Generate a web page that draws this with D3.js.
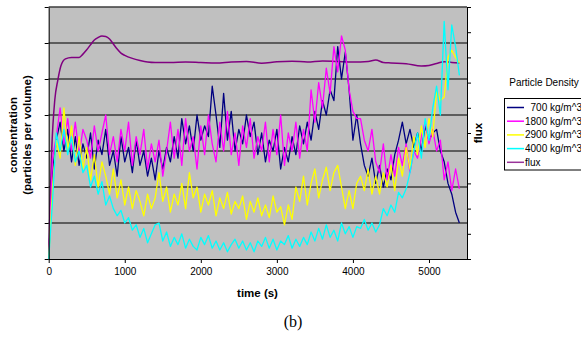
<!DOCTYPE html>
<html>
<head>
<meta charset="utf-8">
<script src="https://cdn.jsdelivr.net/npm/d3@7"></script>
<style>
  html, body { margin: 0; padding: 0; background: #fff; }
  svg { display: block; }
</style>
</head>
<body>
<div id="chart"></div>
<script>
// sampling of the concentration series (s)
const sampleStep = 50;

const seriesNames = ["  700 kg/m^3", "1800 kg/m^3", "2900 kg/m^3", "4000 kg/m^3"];
const seriesColors = ["#000080", "#ff00ff", "#ffff00", "#00ffff"];

const conc700 = [
  0,240,330,380,300,360,270,340,260,320,
  280,350,250,330,290,360,260,300,230,340,
  270,310,240,330,260,300,230,280,220,300,
  250,310,270,340,280,390,320,370,300,400,
  330,370,340,480,400,310,460,330,410,300,
  360,320,400,340,380,290,350,270,330,300,
  360,250,310,270,340,290,370,320,380,330,
  410,360,440,400,470,440,590,500,575,470,
  330,400,320,260,230,280,210,260,200,250,
  220,290,330,380,320,360,310,350,300,370,
  330,350,360,300,270,210,180,130,100
];
const conc1800 = [
  0,280,340,420,320,390,300,380,290,360,
  330,280,370,300,350,400,290,340,270,360,
  300,380,260,340,290,360,250,320,270,330,
  230,300,380,280,360,260,390,300,340,250,
  370,290,400,320,270,380,300,410,290,350,
  260,370,310,390,280,340,300,380,270,360,
  290,400,260,350,300,380,280,360,300,470,
  380,490,420,530,460,590,520,620,580,470,
  410,390,390,330,300,360,270,240,320,220,
  290,230,310,260,320,240,300,280,340,380,
  320,360,300,330,220,270,190,250,195
];
const conc2900 = [
  0,200,330,280,420,300,370,260,340,250,
  310,220,290,200,270,230,180,250,170,220,
  150,200,140,190,160,120,180,140,170,240,
  160,200,130,180,150,210,140,240,170,200,
  130,180,150,190,120,170,140,185,125,160,
  140,175,110,160,130,170,120,150,115,175,
  130,145,95,150,110,200,160,230,150,210,
  250,170,220,255,190,240,260,200,140,190,
  140,210,230,190,250,180,230,180,240,200,
  260,190,280,230,310,250,340,290,370,310,
  390,340,470,440,450,560,580,560,545
];
const conc4000 = [
  0,160,350,300,360,290,340,270,300,240,
  260,200,230,180,215,150,175,140,120,135,
  100,115,80,95,60,85,45,70,95,100,
  50,75,35,60,40,70,30,55,35,25,
  60,40,65,30,50,25,45,20,40,55,
  30,50,25,45,20,50,35,60,30,55,
  25,50,40,65,30,55,35,60,40,75,
  50,85,55,95,60,80,50,100,70,90,
  60,90,85,110,80,100,75,95,140,120,
  150,130,185,170,195,240,300,350,280,390,
  330,420,480,400,660,470,650,590,510
];

const fluxTimes = [0,20,40,80,120,160,220,300,400,450,500,550,600,650,700,750,800,850,900,950,
  1000,1100,1200,1300,1400,1600,1800,2000,2200,2400,2600,2800,3000,3200,3400,3600,3800,4000,4200,4300,
  4400,4500,4700,4900,5000,5100,5200,5300,5400];
const fluxValues = [0,0.234,0.433,0.631,0.71,0.766,0.794,0.80,0.80,0.813,0.83,0.85,0.869,0.879,0.885,0.883,0.873,0.853,0.833,0.817,
  0.808,0.796,0.788,0.782,0.78,0.78,0.782,0.78,0.778,0.782,0.784,0.777,0.783,0.785,0.782,0.786,0.784,0.782,0.784,0.79,
  0.78,0.778,0.775,0.766,0.768,0.776,0.783,0.78,0.778];

const xTicks = [0, 1000, 2000, 3000, 4000, 5000];

const width = 581, height = 341;
const plotLeft = 48.7, plotRight = 467, plotTop = 7, plotBottom = 259;

const svg = d3.select("#chart").append("svg")
  .attr("width", width)
  .attr("height", height)
  .attr("viewBox", [0, 0, width, height])
  .style("font-family", "Arial, 'Liberation Sans', sans-serif");

const x = d3.scaleLinear().domain([0, 5500]).range([plotLeft, plotRight]);
const y = d3.scaleLinear().domain([0, 700]).range([plotBottom, plotTop]);
const yFlux = d3.scaleLinear().domain([0, 1]).range([plotBottom, plotTop]);

// plot area
svg.append("rect")
  .attr("x", plotLeft).attr("y", plotTop)
  .attr("width", plotRight - plotLeft).attr("height", plotBottom - plotTop)
  .attr("fill", "#c0c0c0");

// gridlines
svg.append("g")
  .selectAll("line")
  .data(d3.range(100, 701, 100))
  .join("line")
    .attr("x1", plotLeft).attr("x2", plotRight)
    .attr("y1", d => y(d)).attr("y2", d => y(d))
    .attr("stroke", "#3c3c3c")
    .attr("stroke-width", 1.3);

// series
const line = d3.line()
  .x((d, i) => x(i * sampleStep))
  .y(d => y(d));

const fluxLine = d3.line()
  .x((d, i) => x(fluxTimes[i]))
  .y(d => yFlux(d))
  .curve(d3.curveMonotoneX);

svg.append("path")
  .attr("d", fluxLine(fluxValues))
  .attr("fill", "none")
  .attr("stroke", "#800080")
  .attr("stroke-width", 1.5);

const allSeries = [conc700, conc1800, conc2900, conc4000];
svg.append("g")
  .selectAll("path")
  .data(allSeries)
  .join("path")
    .attr("d", d => line(d))
    .attr("fill", "none")
    .attr("stroke", (d, i) => seriesColors[i])
    .attr("stroke-width", 1.3)
    .attr("stroke-linejoin", "round");

// axes
const gx = svg.append("g")
  .attr("transform", `translate(0,${plotBottom})`)
  .call(d3.axisBottom(x).tickValues(xTicks).tickFormat(d3.format("d"))
    .tickSize(4).tickPadding(5).tickSizeOuter(0));
gx.select(".domain").attr("stroke", "#000").attr("d", `M${plotLeft},0.5H${plotRight}`);
gx.selectAll("text").attr("font-size", 10).attr("fill", "#000").attr("font-family", "Arial, 'Liberation Sans', sans-serif");

const gy = svg.append("g")
  .attr("transform", `translate(${plotLeft},0)`)
  .call(d3.axisLeft(y).tickValues(d3.range(0, 701, 100)).tickSize(4).tickFormat("").tickSizeOuter(0));
gy.select(".domain").attr("stroke", "#000");

const gr = svg.append("g")
  .attr("transform", `translate(${plotRight},0)`)
  .call(d3.axisRight(yFlux).tickValues(d3.range(0, 1.01, 0.1)).tickSize(4).tickFormat("").tickSizeOuter(0));
gr.select(".domain").attr("stroke", "#000");

// axis titles
svg.append("text")
  .attr("x", 257.5).attr("y", 297)
  .attr("text-anchor", "middle")
  .attr("font-size", 11.5).attr("font-weight", "bold")
  .text("time (s)");

const yTitle = svg.append("text")
  .attr("transform", "translate(16.5,135) rotate(-90)")
  .attr("text-anchor", "middle")
  .attr("font-size", 11.5).attr("font-weight", "bold");
yTitle.append("tspan").attr("x", 0).attr("y", 0).text("concentration");
yTitle.append("tspan").attr("x", 0).attr("y", 14.5).text("(particles per volume)");

svg.append("text")
  .attr("transform", "translate(482,133) rotate(-90)")
  .attr("text-anchor", "middle")
  .attr("font-size", 11.5).attr("font-weight", "bold")
  .text("flux");

svg.append("text")
  .attr("x", 293).attr("y", 327)
  .attr("text-anchor", "middle")
  .attr("font-family", "'Liberation Serif', 'Times New Roman', serif")
  .attr("font-size", 16)
  .text("(b)");

// legend
svg.append("text")
  .attr("x", 544).attr("y", 86)
  .attr("text-anchor", "middle")
  .attr("font-size", 10)
  .text("Particle Density");

svg.append("rect")
  .attr("x", 504.5).attr("y", 98.5)
  .attr("width", 90).attr("height", 71.5)
  .attr("fill", "#fff").attr("stroke", "#000");

const legendItems = seriesNames.map((n, i) => ({name: n, color: seriesColors[i]}))
  .concat([{name: "flux", color: "#993399"}]);
const lg = svg.append("g")
  .selectAll("g")
  .data(legendItems)
  .join("g")
    .attr("transform", (d, i) => `translate(0,${107.5 + i * 13.7})`);
lg.append("line")
  .attr("x1", 507).attr("x2", 524)
  .attr("stroke", d => d.color).attr("stroke-width", 1.5);
lg.append("text")
  .attr("x", 525).attr("y", 3.5)
  .attr("font-size", 10)
  .style("white-space", "pre")
  .text(d => d.name);
</script>
</body>
</html>
